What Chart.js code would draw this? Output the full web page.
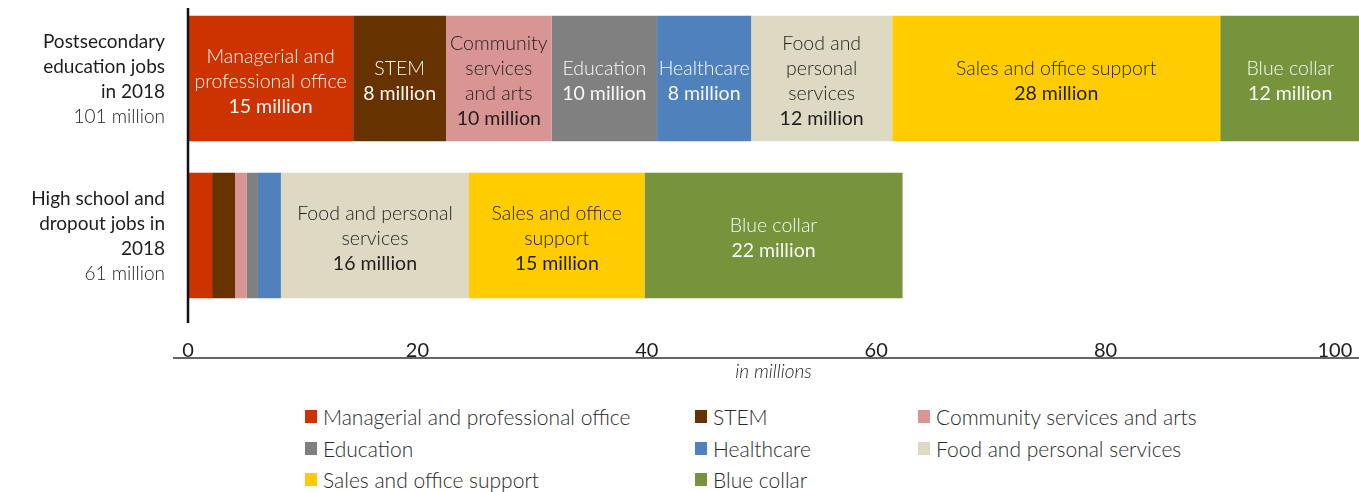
<!DOCTYPE html>
<html>
<head>
<meta charset="utf-8">
<script src="https://cdn.jsdelivr.net/npm/chart.js@4.4.0/dist/chart.umd.min.js"></script>
<style>
  body { margin: 0; background: #fff; font-family: Lato, sans-serif; }
  #wrap { position: relative; width: 1359px; height: 492px; overflow: hidden; }
  #chartBox { position: absolute; left: 0; top: 0; width: 1359px; height: 390px; }
  #legend { position: absolute; left: 305px; top: 401px; display: grid; grid-template-columns: 390px 223px 300px; }
  .item { display: flex; align-items: center; height: 31.5px; font-size: 21px; font-weight: 300; color: #2a2a2a; white-space: nowrap; }
  .sw { width: 12px; height: 13px; margin-right: 6px; flex: none; }
</style>
</head>
<body>
<div id="wrap">
  <div id="chartBox"><canvas id="jobsChart"></canvas></div>
  <div id="legend"></div>
</div>
<script>
// categories (y axis), last line is the total
const categories = [
    ['Postsecondary', 'education jobs', 'in 2018', '101 million'],
    ['High school and', 'dropout jobs in', '2018', '61 million']
];

const occupations = ['Managerial and professional office', 'STEM', 'Community services and arts', 'Education',
    'Healthcare', 'Food and personal services', 'Sales and office support', 'Blue collar'];

// millions of jobs
const postsecondary = [14.4, 8.1, 9.2, 9.2, 8.2, 12.3, 28.6, 12.2];
const highSchool = [2.1, 2.0, 1.0, 1.0, 2.0, 16.4, 15.3, 22.5];

// numbers printed in the segments
const postsecondaryShown = [15, 8, 10, 10, 8, 12, 28, 12];
const highSchoolShown = [null, null, null, null, null, 16, 15, 22];

// how the occupation names wrap inside each segment
const postsecondaryWrap = [['Managerial and', 'professional office'], ['STEM'], ['Community', 'services', 'and arts'],
    ['Education'], ['Healthcare'], ['Food and', 'personal', 'services'], ['Sales and office support'], ['Blue collar']];
const highSchoolWrap = [null, null, null, null, null, ['Food and personal', 'services'], ['Sales and office', 'support'], ['Blue collar']];

const xTicks = [0, 20, 40, 60, 80, 100];
const xMax = 102.1;

const colors = ['#cc3300', '#663300', '#d99594', '#808080', '#4f81bd', '#ddd9c3', '#ffcc00', '#77933c'];
const inkColors = ['#f7f7f7', '#f7f7f7', '#1e1e1e', '#f7f7f7', '#f7f7f7', '#1e1e1e', '#1e1e1e', '#f7f7f7'];

const FONT = 'Lato, sans-serif';

// text inside the bar segments
const segmentLabels = {
    id: 'segmentLabels',
    afterDatasetsDraw(chart) {
        const ctx = chart.ctx;
        ctx.save();
        ctx.textAlign = 'center';
        ctx.textBaseline = 'middle';
        chart.data.datasets.forEach((ds, i) => {
            const meta = chart.getDatasetMeta(i);
            meta.data.forEach((bar, j) => {
                const wrap = j === 0 ? postsecondaryWrap[i] : highSchoolWrap[i];
                const shown = j === 0 ? postsecondaryShown[i] : highSchoolShown[i];
                if (!wrap) return;
                const lines = wrap.concat([shown + ' million']);
                const lh = 25;
                const cx = (bar.x + bar.base) / 2;
                let y = bar.y + 3 - (lines.length - 1) * lh / 2;
                ctx.fillStyle = inkColors[i];
                lines.forEach((t, k) => {
                    ctx.font = (k === lines.length - 1 ? '400' : '300') + ' 19.5px ' + FONT;
                    ctx.fillText(t, cx, y);
                    y += lh;
                });
            });
        });
        ctx.restore();
    }
};

// category labels and the two axis lines
const axisDecor = {
    id: 'axisDecor',
    afterDraw(chart) {
        const ctx = chart.ctx;
        const area = chart.chartArea;
        const yScale = chart.scales.y;
        ctx.save();
        ctx.textAlign = 'right';
        ctx.textBaseline = 'middle';
        ctx.fillStyle = '#1e1e1e';
        categories.forEach((lines, i) => {
            const lh = 25;
            let y = yScale.getPixelForValue(i) + 1 - (lines.length - 1) * lh / 2;
            lines.forEach((t, k) => {
                ctx.font = (k === lines.length - 1 ? '300' : '400') + ' 19px ' + FONT;
                ctx.fillText(t, area.left - 23, y);
                y += lh;
            });
        });

        ctx.strokeStyle = '#111';
        ctx.lineWidth = 2.5;
        ctx.beginPath();
        ctx.moveTo(area.left, area.top + 8);
        ctx.lineTo(area.left, area.bottom + 9);
        ctx.stroke();

        ctx.strokeStyle = '#333';
        ctx.lineWidth = 1.5;
        ctx.beginPath();
        ctx.moveTo(area.left - 15, area.bottom + 44);
        ctx.lineTo(chart.width, area.bottom + 44);
        ctx.stroke();
        ctx.restore();
    }
};

const datasets = occupations.map((name, i) => ({
    label: name,
    data: [postsecondary[i], highSchool[i]],
    backgroundColor: colors[i],
    borderWidth: 0,
    barPercentage: 0.8,
    categoryPercentage: 1
}));

new Chart(document.getElementById('jobsChart'), {
    type: 'bar',
    data: {
        labels: categories.map(c => c.join(' ')),
        datasets: datasets
    },
    options: {
        indexAxis: 'y',
        responsive: true,
        maintainAspectRatio: false,
        animation: false,
        layout: { padding: 0 },
        plugins: {
            legend: { display: false },
            tooltip: { enabled: false }
        },
        scales: {
            x: {
                stacked: true,
                min: 0,
                max: xMax,
                grid: { display: false, drawTicks: false },
                border: { display: false },
                ticks: {
                    stepSize: 20,
                    padding: 25,
                    color: '#1e1e1e',
                    font: { family: FONT, size: 20 }
                },
                afterBuildTicks: scale => {
                    scale.ticks = xTicks.map(v => ({ value: v }));
                },
                afterFit: scale => {
                    scale.height = 76;
                    scale.paddingLeft = 0;
                    scale.paddingRight = 0;
                },
                title: {
                    display: true,
                    text: 'in millions',
                    color: '#1e1e1e',
                    font: { family: FONT, size: 19, style: 'italic', weight: '300' },
                    padding: { top: 0, bottom: 7 }
                }
            },
            y: {
                stacked: true,
                grid: { display: false, drawTicks: false },
                border: { display: false },
                ticks: { display: false },
                afterFit: scale => { scale.width = 188; }
            }
        }
    },
    plugins: [segmentLabels, axisDecor]
});

// legend, three columns
const legend = document.getElementById('legend');
occupations.forEach((name, i) => {
    const item = document.createElement('div');
    item.className = 'item';
    item.innerHTML = '<span class="sw" style="background:' + colors[i] + '"></span>' + name;
    legend.appendChild(item);
});
</script>
</body>
</html>
